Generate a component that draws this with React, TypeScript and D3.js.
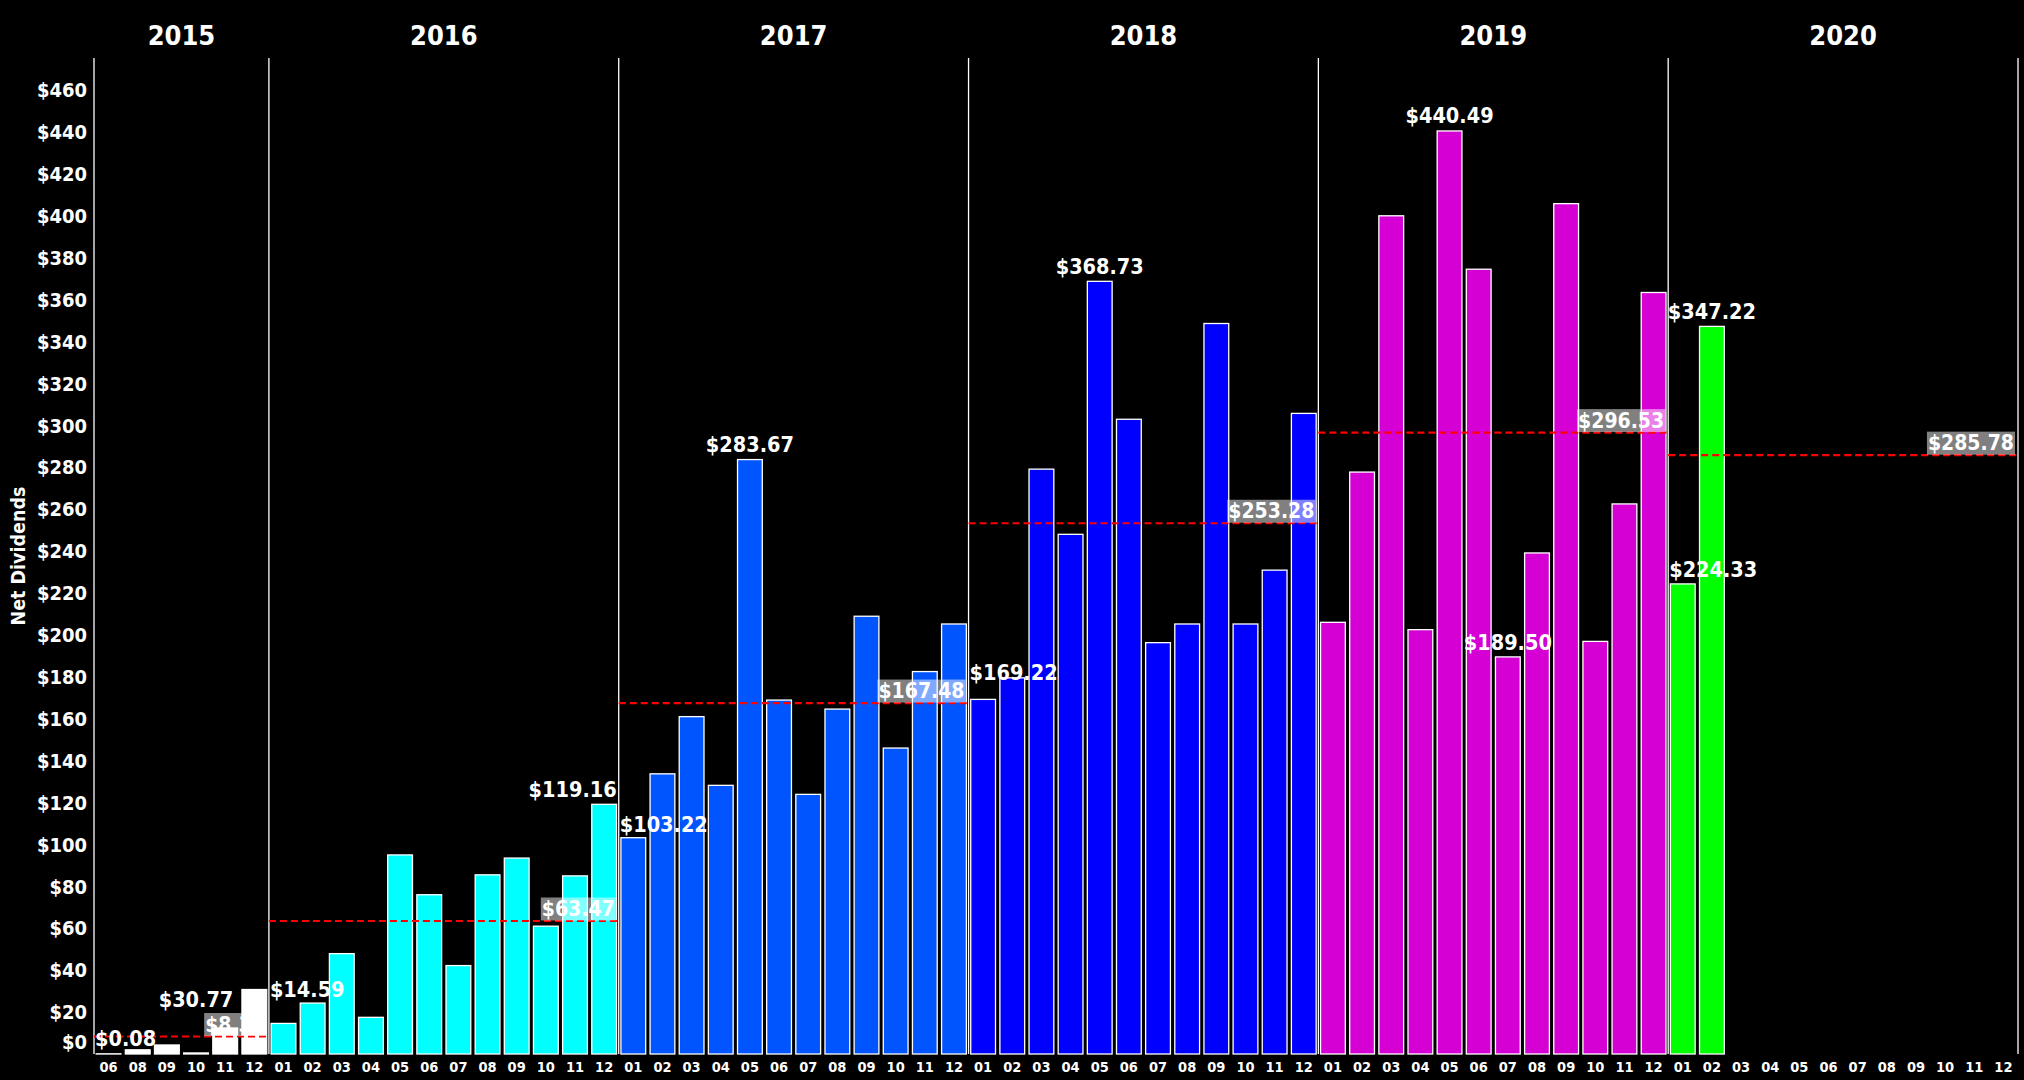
import { useEffect, useRef } from 'react';
import * as d3 from 'd3';

const WIDTH = 2024;
const HEIGHT = 1080;
const FONT = "'DejaVu Sans Condensed', 'DejaVu Sans', Verdana, sans-serif";

const years = ['2015', '2016', '2017', '2018', '2019', '2020'];
const months2015 = ['06', '08', '09', '10', '11', '12'];
const monthsFull = ['01', '02', '03', '04', '05', '06', '07', '08', '09', '10', '11', '12'];

// monthly net dividends (2020 only has Jan and Feb)
const dividends2015 = [0.08, 2.0, 4.3, 0.5, 12.4, 30.77];
const dividends2016 = [14.59, 24.3, 47.9, 17.5, 95.0, 76.0, 42.2, 85.5, 93.5, 61.0, 85.0, 119.16];
const dividends2017 = [103.22, 133.7, 161.0, 128.2, 283.67, 168.9, 123.9, 164.6, 208.9, 146.0, 182.5, 205.2];
const dividends2018 = [169.22, 179.5, 279.1, 248.0, 368.73, 302.9, 196.3, 205.2, 348.6, 205.2, 230.9, 305.7];
const dividends2019 = [206.0, 277.7, 400.0, 202.5, 440.49, 374.5, 189.5, 239.1, 405.8, 196.9, 262.5, 363.4];
const dividends2020 = [224.33, 347.22];

const yearColors = ['#ffffff', '#00ffff', '#0055ff', '#0000ff', '#d400d4', '#00ff00'];

const yTicks = [0, 20, 40, 60, 80, 100, 120, 140, 160, 180, 200, 220, 240, 260, 280, 300, 320, 340, 360, 380, 400, 420, 440, 460];

// where the min / max label of each year sits
const extremeLabels = [
  { year: '2015', kind: 'min', align: 'start', shift: 0, dy: -8 },
  { year: '2015', kind: 'max', align: 'middle', shift: -2, dy: 17.5 },
  { year: '2016', kind: 'min', align: 'start', shift: 0, dy: -26 },
  { year: '2016', kind: 'max', align: 'end', shift: 0, dy: -7 },
  { year: '2017', kind: 'min', align: 'start', shift: 0, dy: -6 },
  { year: '2017', kind: 'max', align: 'middle', shift: 0, dy: -7.5 },
  { year: '2018', kind: 'min', align: 'start', shift: 0, dy: -19 },
  { year: '2018', kind: 'max', align: 'middle', shift: 0, dy: -7 },
  { year: '2019', kind: 'min', align: 'middle', shift: 0, dy: -6.5 },
  { year: '2019', kind: 'max', align: 'middle', shift: 0, dy: -7.5 },
  { year: '2020', kind: 'min', align: 'start', shift: 0, dy: -6.5 },
  { year: '2020', kind: 'max', align: 'middle', shift: 0, dy: -7 },
];

interface Cell {
  key: string;
  year: string;
  month: string;
  value: number | undefined;
  color: string;
}

const yearSeries = [dividends2015, dividends2016, dividends2017, dividends2018, dividends2019, dividends2020];

const cells: Cell[] = years.flatMap((year, yi) => {
  const months = yi === 0 ? months2015 : monthsFull;
  return months.map((month, mi) => ({
    key: `${year}-${month}`,
    year,
    month,
    value: yearSeries[yi][mi],
    color: yearColors[yi],
  }));
});

const margin = { top: 58, right: 6, bottom: 26, left: 94 };

export default function App() {
  const svgRef = useRef<SVGSVGElement>(null);

  useEffect(() => {
    document.body.style.margin = '0';
    document.body.style.background = '#000';
    if (!svgRef.current) return;

    const svg = d3.select(svgRef.current);
    svg.selectAll('*').remove();

    const x0 = margin.left;
    const x1 = WIDTH - margin.right;
    const yBottom = HEIGHT - margin.bottom;

    const x = d3
      .scaleBand<string>()
      .domain(cells.map((c) => c.key))
      .range([x0, x1])
      .paddingInner(0.15)
      .paddingOuter(0.075);
    const step = x.step();
    const bandStart = (k: string) => (x(k) as number) - step * 0.075;
    const bandCenter = (k: string) => (x(k) as number) + x.bandwidth() / 2;

    const y = d3.scaleLinear().domain([0, 475.3]).range([yBottom, margin.top]);
    const money = d3.format('$,.2f');

    svg.append('rect').attr('width', WIDTH).attr('height', HEIGHT).attr('fill', '#000');

    // year extents
    const yearInfo = years.map((year) => {
      const ys = cells.filter((c) => c.year === year);
      const withData = ys.filter((c) => c.value !== undefined);
      const start = bandStart(ys[0].key);
      const end = bandStart(ys[ys.length - 1].key) + step;
      const avg = d3.mean(withData, (c) => c.value as number) as number;
      const min = d3.least(withData, (c) => c.value as number) as Cell;
      const max = d3.greatest(withData, (c) => c.value as number) as Cell;
      return { year, start, end, avg, min, max };
    });

    // bars
    svg
      .append('g')
      .selectAll('rect')
      .data(cells.filter((c) => c.value !== undefined))
      .join('rect')
      .attr('x', (d) => x(d.key) as number)
      .attr('y', (d) => y(d.value as number))
      .attr('width', x.bandwidth())
      .attr('height', (d) => yBottom - y(d.value as number))
      .attr('fill', (d) => d.color)
      .attr('stroke', '#fff')
      .attr('stroke-width', 1.3);

    // year separators + left axis line
    const sepX = [yearInfo[0].start, ...yearInfo.map((d) => d.end)];
    svg
      .append('g')
      .selectAll('line')
      .data(sepX)
      .join('line')
      .attr('x1', (d) => d)
      .attr('x2', (d) => d)
      .attr('y1', margin.top)
      .attr('y2', yBottom)
      .attr('stroke', '#fff')
      .attr('stroke-width', 1.3);

    // average lines
    svg
      .append('g')
      .selectAll('line')
      .data(yearInfo)
      .join('line')
      .attr('x1', (d) => d.start)
      .attr('x2', (d) => d.end)
      .attr('y1', (d) => y(d.avg))
      .attr('y2', (d) => y(d.avg))
      .attr('stroke', '#ff0000')
      .attr('stroke-width', 2.2)
      .attr('stroke-dasharray', '7,4');

    // average labels
    const avgG = svg.append('g');
    yearInfo.forEach((d) => {
      const g = avgG.append('g');
      const box = g.append('rect');
      const t = g
        .append('text')
        .attr('x', d.end - 4)
        .attr('y', y(d.avg) - 5)
        .attr('text-anchor', 'end')
        .attr('fill', '#fff')
        .attr('font-family', FONT)
        .attr('font-weight', 'bold')
        .attr('font-size', 21)
        .text(money(d.avg));
      const bb = (t.node() as SVGTextElement).getBBox();
      box
        .attr('x', bb.x - 1)
        .attr('width', bb.width + 2)
        .attr('y', y(d.avg) - 23.5)
        .attr('height', 23)
        .attr('fill', '#fff')
        .attr('fill-opacity', 0.5);
    });

    // min / max labels
    svg
      .append('g')
      .selectAll('text')
      .data(extremeLabels)
      .join('text')
      .each(function (p) {
        const info = yearInfo.find((d) => d.year === p.year)!;
        const cell = p.kind === 'min' ? info.min : info.max;
        let lx = bandCenter(cell.key) + p.shift * step;
        if (p.align === 'start') lx = bandStart(cell.key) + 1;
        if (p.align === 'end') lx = bandStart(cell.key) + step - 2;
        d3.select(this)
          .attr('x', lx)
          .attr('y', y(cell.value as number) + p.dy)
          .attr('text-anchor', p.align)
          .text(money(cell.value as number));
      })
      .attr('fill', '#fff')
      .attr('font-family', FONT)
      .attr('font-weight', 'bold')
      .attr('font-size', 21.5);

    // y axis labels
    svg
      .append('g')
      .selectAll('text')
      .data(yTicks)
      .join('text')
      .attr('x', x0 - 7)
      .attr('y', (d) => Math.min(y(d), yBottom - 12.5))
      .attr('dy', '0.36em')
      .attr('text-anchor', 'end')
      .attr('fill', '#fff')
      .attr('font-family', FONT)
      .attr('font-weight', 'bold')
      .attr('font-size', 20)
      .text((d) => `$${d}`);

    svg
      .append('text')
      .attr('transform', `translate(25,${(margin.top + yBottom) / 2}) rotate(-90)`)
      .attr('text-anchor', 'middle')
      .attr('fill', '#fff')
      .attr('font-family', FONT)
      .attr('font-weight', 'bold')
      .attr('font-size', 19.5)
      .text('Net Dividends');

    // month labels
    svg
      .append('g')
      .selectAll('text')
      .data(cells)
      .join('text')
      .attr('x', (d) => bandCenter(d.key))
      .attr('y', 1072)
      .attr('text-anchor', 'middle')
      .attr('fill', '#fff')
      .attr('font-family', FONT)
      .attr('font-weight', 'bold')
      .attr('font-size', 14.5)
      .text((d) => d.month);

    // year labels
    svg
      .append('g')
      .selectAll('text')
      .data(yearInfo)
      .join('text')
      .attr('x', (d) => (d.start + d.end) / 2)
      .attr('y', 45)
      .attr('text-anchor', 'middle')
      .attr('fill', '#fff')
      .attr('font-family', FONT)
      .attr('font-weight', 'bold')
      .attr('font-size', 27)
      .text((d) => d.year);
  }, []);

  return <svg ref={svgRef} width={WIDTH} height={HEIGHT} style={{ display: 'block', background: '#000' }} />;
}
